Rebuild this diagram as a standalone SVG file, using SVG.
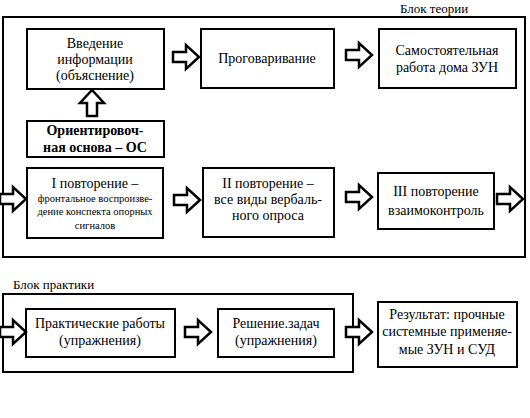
<svg xmlns="http://www.w3.org/2000/svg" xmlns:xlink="http://www.w3.org/1999/xlink" width="530" height="418" viewBox="0 0 530 418" font-family="'Liberation Serif', 'DejaVu Serif', serif">
<style>
.blk{fill:none;stroke:#000;stroke-width:2}
.box{fill:#fff;stroke:#000;stroke-width:2}
text{font-family:'Liberation Serif','DejaVu Serif',serif;fill:#000;text-anchor:middle}
.t{font-size:14px}
.b{font-size:14px;font-weight:bold}
.s{font-size:10.5px}
.lbl{font-size:13px;text-anchor:start}
</style>
<defs>
<path id="ar" d="M0,7 H13 V0 L26,12 L13,24 V17 H0 Z" fill="#fff" stroke="#000" stroke-width="2.5" stroke-linejoin="miter"/>
</defs>
<text class="lbl" x="400" y="13">Блок теории</text>
<rect class="blk" x="3" y="17" width="522" height="240"/>
<text class="lbl" x="13" y="289">Блок практики</text>
<rect class="blk" x="3" y="294" width="350" height="78"/>
<g id="n1"><rect class="box" x="27" y="29" width="137" height="60"/>
<text class="t" x="95" y="48">Введение</text><text class="t" x="95" y="64">информации</text><text class="t" x="95" y="80">(объяснение)</text></g>
<g id="n2"><rect class="box" x="201" y="29" width="133" height="59"/>
<text class="t" x="267" y="63">Проговаривание</text></g>
<g id="n3"><rect class="box" x="379" y="29" width="137" height="59"/>
<text class="t" x="447" y="55">Самостоятельная</text><text class="t" x="447" y="72">работа дома ЗУН</text></g>
<g id="n4"><rect class="box" x="27" y="121" width="137" height="36"/>
<text class="b" x="95" y="135">Ориентировоч-</text><text class="b" x="95" y="152">ная основа – ОС</text></g>
<g id="n5"><rect class="box" x="27" y="168" width="136" height="70"/>
<text class="t" x="95" y="188">I повторение –</text><text class="s" x="95" y="202">фронтальное воспроизве-</text><text class="s" x="95" y="215">дение конспекта опорных</text><text class="s" x="95" y="229">сигналов</text></g>
<g id="n6"><rect class="box" x="203" y="168" width="131" height="69"/>
<text class="t" x="268" y="188">II повторение –</text><text class="t" x="268" y="204">все виды вербаль-</text><text class="t" x="268" y="220">ного опроса</text></g>
<g id="n7"><rect class="box" x="378" y="173" width="116" height="56"/>
<text class="t" x="436" y="196">III повторение</text><text class="t" x="436" y="215">взаимоконтроль</text></g>
<g id="n8"><rect class="box" x="26" y="309" width="149" height="48"/>
<text class="t" x="100" y="328">Практические работы</text><text class="t" x="100" y="345">(упражнения)</text></g>
<g id="n9"><rect class="box" x="218" y="309" width="116" height="48"/>
<text class="t" x="276" y="328">Решение.задач</text><text class="t" x="276" y="345">(упражнения)</text></g>
<g id="n10"><rect class="box" x="378" y="302" width="139" height="65"/>
<text class="t" x="447" y="319">Результат: прочные</text><text class="t" x="447" y="336">системные применяе-</text><text class="t" x="447" y="354">мые ЗУН и СУД</text></g>
<g id="connectors">
<use xlink:href="#ar" x="173" y="45"/>
<use xlink:href="#ar" x="346" y="43"/>
<use xlink:href="#ar" transform="translate(80,116) rotate(-90)"/>
<use xlink:href="#ar" x="0" y="187"/>
<use xlink:href="#ar" x="174" y="188"/>
<use xlink:href="#ar" x="346" y="185"/>
<use xlink:href="#ar" x="497" y="187"/>
<use xlink:href="#ar" x="0" y="320"/>
<use xlink:href="#ar" x="185" y="320"/>
<use xlink:href="#ar" x="346" y="320"/>
</g>
</svg>
